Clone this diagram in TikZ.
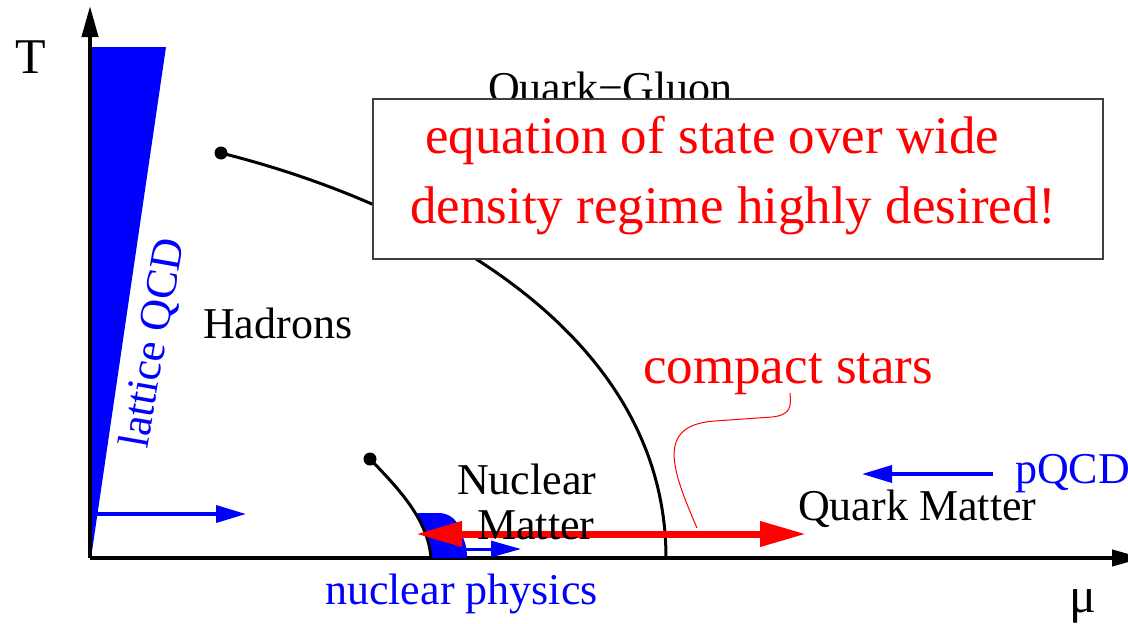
\documentclass[tikz,border=0pt]{standalone}
\usepackage{fontspec}
\setmainfont{Liberation Serif}
\usetikzlibrary{arrows.meta}
\definecolor{pblue}{RGB}{0,0,255}
\definecolor{pred}{RGB}{255,0,0}
\begin{document}
\begin{tikzpicture}[x=1pt,y=-1pt,
  lbl/.style={inner sep=0pt,anchor=base west,font=\fontsize{44}{50}\selectfont},
  redlbl/.style={lbl,text=pred,font=\fontsize{53}{60}\selectfont},
  axis/.style={line width=4pt,-{Triangle[length=31pt,width=16pt]}},
  phase/.style={line width=3pt},
  bluearrow/.style={draw=pblue,line width=3.5pt,-{Triangle[length=30pt,width=17pt]}},
  dotend/.style={circle,fill=black,inner sep=0pt,minimum size=13pt}]
\useasboundingbox (0,0) rectangle (1128,624);
\fill[white] (0,0) rectangle (1128,624);
% lattice wedge
\fill[pblue] (90,47) -- (166,47) -- (91,558) -- cycle;
% axes
\coordinate (O) at (90,558);
\coordinate (Ytip) at (90,6);
\coordinate (Xtip) at (1143,558);
\draw[axis] (O) -- (Ytip);
\draw[axis] (O) -- (Xtip);
% blue blob
\fill[pblue] (416,513) -- (440,513) .. controls (452,514) and (458,522) .. (460,530)
  -- (464,540) .. controls (467,548) and (467,555) .. (467,558) -- (431,558)
  -- (429,540) -- cycle;
% phase lines
\node[dotend] (c1) at (221,153) {};
\coordinate (c1end) at (666,558);
\draw[phase] (c1.center) .. controls (421,203) and (666,330) .. (c1end);
\node[dotend] (c2) at (370,459) {};
\coordinate (c2end) at (431,558);
\draw[phase] (c2.center) .. controls (400,490) and (428,520) .. (c2end);
% Quark-Gluon text partly hidden
\node[lbl] (qgp) at (488,102) {Quark−Gluon};
% box
\node[draw=black!75,line width=1.5pt,fill=white,minimum width=730pt,minimum height=160pt,inner sep=0pt,anchor=north west] (box) at (372,98) {};
\node[redlbl] (eos1) at (425,153) {equation of state over wide};
\node[redlbl] (eos2) at (410,223) {density regime highly desired!};
% red double arrow
\coordinate (rl) at (416,534);
\coordinate (rr) at (806,534);
\draw[draw=pred,line width=7pt,{Triangle[length=46pt,width=24pt]}-{Triangle[length=46pt,width=24pt]}] (rl) -- (rr);
% compact stars callout
\node[redlbl] (cs) at (643,383) {compact stars};
\coordinate (csa) at (697,528);
\draw[pred,line width=1pt] (csa) .. controls (672,470) and (655,425) .. (715,421) -- (772,417) .. controls (792,415) and (791,405) .. (790,393);
% blue arrows
\coordinate (b1s) at (93,514);
\coordinate (b1e) at (246,514);
\draw[bluearrow] (b1s) -- (b1e);
\coordinate (b2s) at (465,549);
\coordinate (b2e) at (521,549);
\draw[draw=pblue,line width=3pt,-{Triangle[length=30pt,width=16pt]}] (b2s) -- (b2e);
\coordinate (b3s) at (993,474);
\coordinate (b3e) at (862,474);
\draw[bluearrow] (b3s) -- (b3e);
% labels
\node[lbl] (T) at (15,73) {\fontsize{50}{56}\selectfont T};
\node[lbl] (mu) at (1069,612) {\fontsize{50}{56}\selectfont μ};
\node[lbl] (had) at (203,338) {Hadrons};
\node[lbl,text=pblue,rotate=80] (lqcd) at (147,450) {lattice QCD};
\node[lbl] (nuc1) at (457,494) {Nuclear};
\node[lbl] (nuc2) at (477,539) {Matter};
\node[lbl] (qm) at (798,520) {Quark Matter};
\node[lbl,text=pblue] (pqcd) at (1015,483) {pQCD};
\node[lbl,text=pblue] (np) at (325,604) {nuclear physics};
\end{tikzpicture}
\end{document}
